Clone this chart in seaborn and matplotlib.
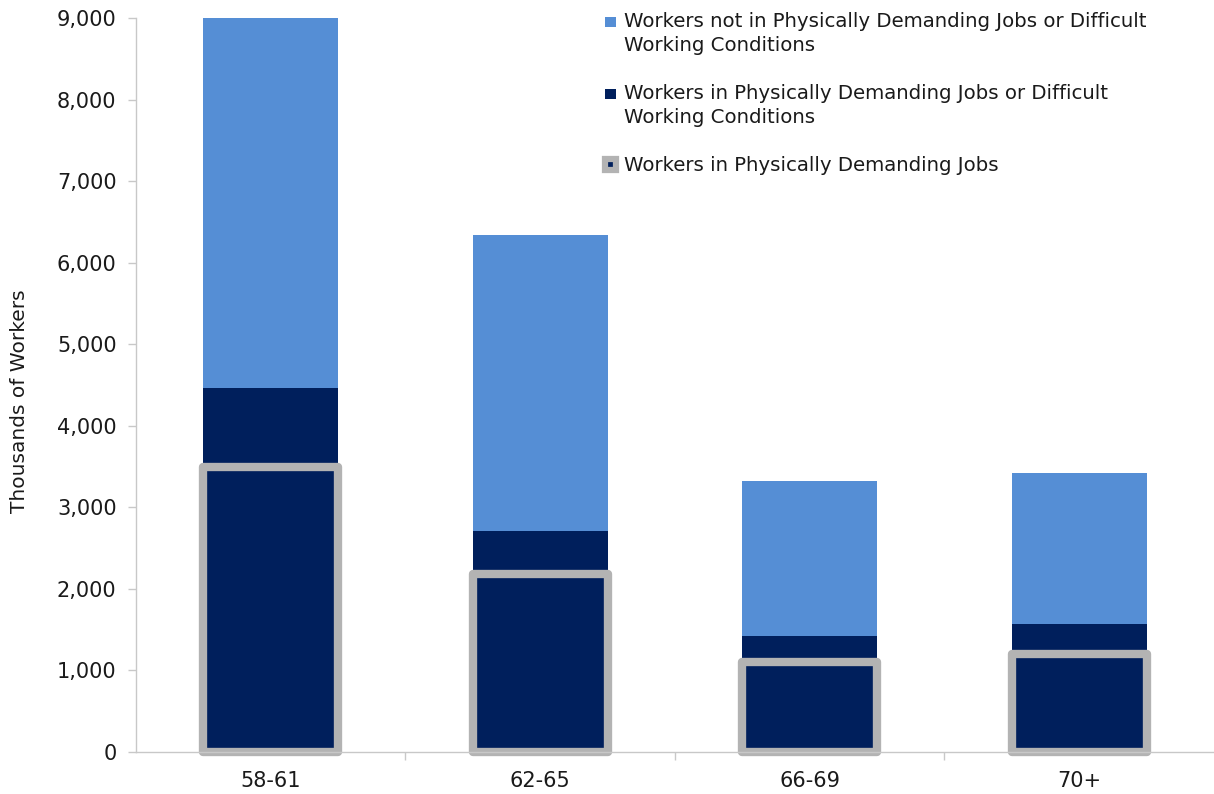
import matplotlib
matplotlib.use("Agg")
import matplotlib.pyplot as plt
import seaborn as sns
import pandas as pd
from matplotlib.patches import Patch, Rectangle
from matplotlib.legend_handler import HandlerPatch
from matplotlib.ticker import FuncFormatter, MultipleLocator, FixedLocator

# Workers by age group, thousands
age_groups = ["58-61", "62-65", "66-69", "70+"]
total_workers = [9000, 6340, 3320, 3420]          # all workers (bar top)
demanding_or_difficult = [4460, 2710, 1420, 1570]  # physically demanding or difficult conditions
physically_demanding = [3500, 2180, 1100, 1200]    # physically demanding jobs only

light_blue = "#558ED5"
navy = "#001F5C"
grey = "#B3B3B3"

df = pd.DataFrame({
    "age": age_groups,
    "total": total_workers,
    "difficult": demanding_or_difficult,
    "physical": physically_demanding,
})

sns.set_theme(style="white")
plt.rcParams["font.family"] = ["DejaVu Sans"]

fig = plt.figure(figsize=(12.14, 7.94), dpi=100)
ax = fig.add_axes([0.112, 0.053, 0.888, 0.924])

sns.barplot(data=df, x="age", y="total", color=light_blue, width=0.5,
            saturation=1, ax=ax, linewidth=0)
sns.barplot(data=df, x="age", y="difficult", color=navy, width=0.5,
            saturation=1, ax=ax, linewidth=0)
sns.barplot(data=df, x="age", y="physical", color=navy, width=0.5,
            saturation=1, ax=ax, edgecolor=grey, linewidth=6)
for p in ax.patches[-len(age_groups):]:
    p.set_joinstyle("round")
    p.set_clip_on(False)

ax.set_xlim(-0.5, 3.5)
ax.set_ylim(0, 9000)
ax.yaxis.set_major_locator(MultipleLocator(1000))
ax.yaxis.set_major_formatter(FuncFormatter(lambda v, _: f"{v:,.0f}"))

ax.set_xlabel("")
ax.set_ylabel("Thousands of Workers", fontsize=14.5, color="#1a1a1a")
ax.yaxis.set_label_coords(-0.0993, 0.478)

for side in ["top", "right"]:
    ax.spines[side].set_visible(False)
for side in ["left", "bottom"]:
    ax.spines[side].set_color("#C8C8C8")
    ax.spines[side].set_linewidth(1.0)

ax.tick_params(axis="y", which="major", left=True, length=6, width=1,
               color="#C8C8C8", labelsize=15, labelcolor="#1a1a1a", pad=8)
ax.tick_params(axis="x", which="major", bottom=False, labelsize=15,
               labelcolor="#1a1a1a", pad=8)
ax.xaxis.set_minor_locator(FixedLocator([0.5, 1.5, 2.5]))
ax.tick_params(axis="x", which="minor", bottom=True, length=6, width=1,
               color="#C8C8C8")


def square_handler(side, lift):
    """Legend key as a small square, raised to sit beside the first text line."""
    def make(legend, orig_handle, xdescent, ydescent, width, height, fontsize):
        x0 = -xdescent + (width - side) / 2
        y0 = -ydescent + (height - side) / 2 + lift * fontsize
        return Rectangle((x0, y0), side, side)
    return HandlerPatch(patch_func=make)


leg_fs = 14.2
handles = [
    Patch(facecolor=light_blue, edgecolor="none"),
    Patch(facecolor=navy, edgecolor="none"),
    Patch(facecolor=navy, edgecolor=grey, linewidth=4.5, joinstyle="round"),
]
labels = [
    "Workers not in Physically Demanding Jobs or Difficult\nWorking Conditions",
    "Workers in Physically Demanding Jobs or Difficult\nWorking Conditions",
    "Workers in Physically Demanding Jobs",
]
handler_map = {
    handles[0]: square_handler(7.5, 0.62),
    handles[1]: square_handler(7.5, 0.62),
    handles[2]: square_handler(8.0, 0.0),
}
leg = ax.legend(handles, labels, loc="upper left", bbox_to_anchor=(0.426, 1.019),
                frameon=False, fontsize=leg_fs, handlelength=0.75, handleheight=0.7,
                handletextpad=0.3, labelspacing=1.5, borderaxespad=0,
                handler_map=handler_map)
for t in leg.get_texts():
    t.set_color("#1a1a1a")
    t.set_linespacing(1.3)

fig.savefig("out.png", dpi=100)
